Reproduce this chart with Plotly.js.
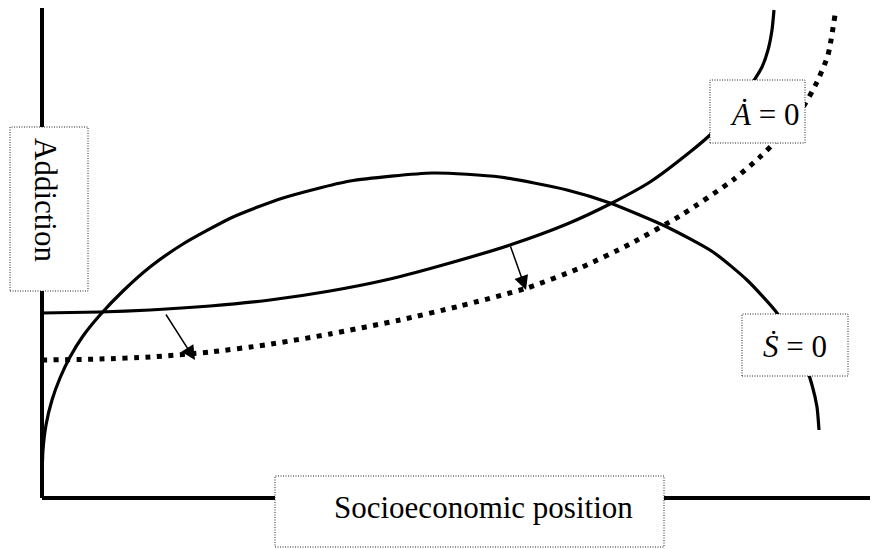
<!DOCTYPE html>
<html>
<head>
<meta charset="utf-8">
<script src="https://cdn.plot.ly/plotly-3.0.1.min.js"></script>
<style>html,body{margin:0;padding:0;background:#fff;}#chart{width:875px;height:549px;}</style>
</head>
<body>
<div id="chart"></div>
<script>
// Diagram units: x = socioeconomic position (0 at the vertical axis), y = addiction (0 at the horizontal axis)
// A-dot = 0 isocline (solid, before shift)
const aDotX = [0, 58, 108, 168, 228, 288, 348, 408, 468, 525, 568, 608, 648, 668, 693, 711, 720, 726, 730, 732];
const aDotY = [185, 186, 188, 192, 198, 207, 219, 235, 253, 274, 294, 316, 346, 363, 390, 416, 431, 448, 468, 488];
// A-dot = 0 isocline after shift (dotted)
const aDot2X = [0, 58, 108, 168, 223, 288, 358, 418, 485, 538, 588, 641, 691, 718, 735, 750, 763, 775, 786, 793];
const aDot2Y = [138, 139, 141, 146, 153, 164, 178, 192, 210, 230, 254, 284, 318, 341, 358, 376, 394, 416, 443, 483];
// S-dot = 0 isocline (hump)
const sDotX = [0, 1, 4, 10, 18, 28, 41, 58, 81, 108, 141, 191, 241, 308, 391, 458, 525, 568, 625, 671, 705, 735, 758, 770, 775, 777];
const sDotY = [21, 48, 73, 98, 120, 141, 162, 183, 207, 231, 254, 281, 300, 317, 325, 321, 308, 295, 271, 246, 218, 185, 148, 113, 91, 68];
// shift arrows: [tailX, tailY, tipX, tipY]
const arrows = [[123, 185, 153, 138], [468, 253, 484, 208]];
// labels
const labels = ["Addiction", "<i>Ȧ</i> = 0", "<i>Ṡ</i> = 0", "Socioeconomic position"];

const XW = 828, YH = 490;
const px = v => v / XW, py = v => v / YH;
const font = {family: "'Liberation Serif', 'Times New Roman', serif", color: "#000"};

const traces = [
  {x: sDotX, y: sDotY, mode: 'lines', line: {color: '#000', width: 3.2, shape: 'spline', smoothing: 0.6}, cliponaxis: false, hoverinfo: 'skip'},
  {x: aDotX, y: aDotY, mode: 'lines', line: {color: '#000', width: 3.2, shape: 'spline', smoothing: 0.6}, cliponaxis: false, hoverinfo: 'skip'},
  {x: aDot2X, y: aDot2Y, mode: 'lines', line: {color: '#000', width: 5, dash: '5px,6.5px', shape: 'spline', smoothing: 0.6}, cliponaxis: false, hoverinfo: 'skip'}
];

function box(x0, y0, x1, y1) {
  return {type: 'rect', xref: 'paper', yref: 'paper', x0: px(x0), x1: px(x1), y0: py(y0), y1: py(y1),
    line: {color: '#222', width: 1, dash: '1px,1.5px'}, fillcolor: '#fff', layer: 'above'};
}

const shapes = [
  {type: 'line', xref: 'paper', yref: 'paper', x0: 0, x1: 1, y0: 0, y1: 0, line: {color: '#000', width: 4}, layer: 'below'},
  {type: 'line', xref: 'paper', yref: 'paper', x0: 0, x1: 0, y0: 0, y1: 1, line: {color: '#000', width: 4}, layer: 'below'},
  box(-32, 207, 46, 371),
  box(668, 355, 763, 418),
  box(700, 122, 806, 184),
  box(233, -49, 622, 22)
];

function label(x, y, text, size, angle) {
  return {x: px(x), y: py(y), xref: 'paper', yref: 'paper', text: text, showarrow: false, textangle: angle || 0,
    font: Object.assign({size: size}, font), xanchor: 'center', yanchor: 'middle'};
}

const annotations = [
  label(4, 298, labels[0], 31, 90),
  label(722, 383, labels[1], 31),
  label(753, 152, labels[2], 31),
  label(441, -9, labels[3], 31)
];
arrows.forEach(a => annotations.push({
  x: a[2], y: a[3], ax: a[0], ay: a[1], xref: 'x', yref: 'y', axref: 'x', ayref: 'y',
  text: '', showarrow: true, arrowhead: 2, arrowsize: 1.9, arrowwidth: 1.5, arrowcolor: '#000', standoff: 0
}));

const layout = {
  width: 875, height: 549,
  margin: {l: 42, r: 5, t: 8, b: 51, pad: 0},
  paper_bgcolor: '#fff', plot_bgcolor: '#fff',
  showlegend: false,
  xaxis: {range: [0, XW], visible: false, fixedrange: true},
  yaxis: {range: [0, YH], visible: false, fixedrange: true},
  shapes: shapes,
  annotations: annotations
};

Plotly.newPlot('chart', traces, layout, {staticPlot: true, displayModeBar: false});
</script>
</body>
</html>
